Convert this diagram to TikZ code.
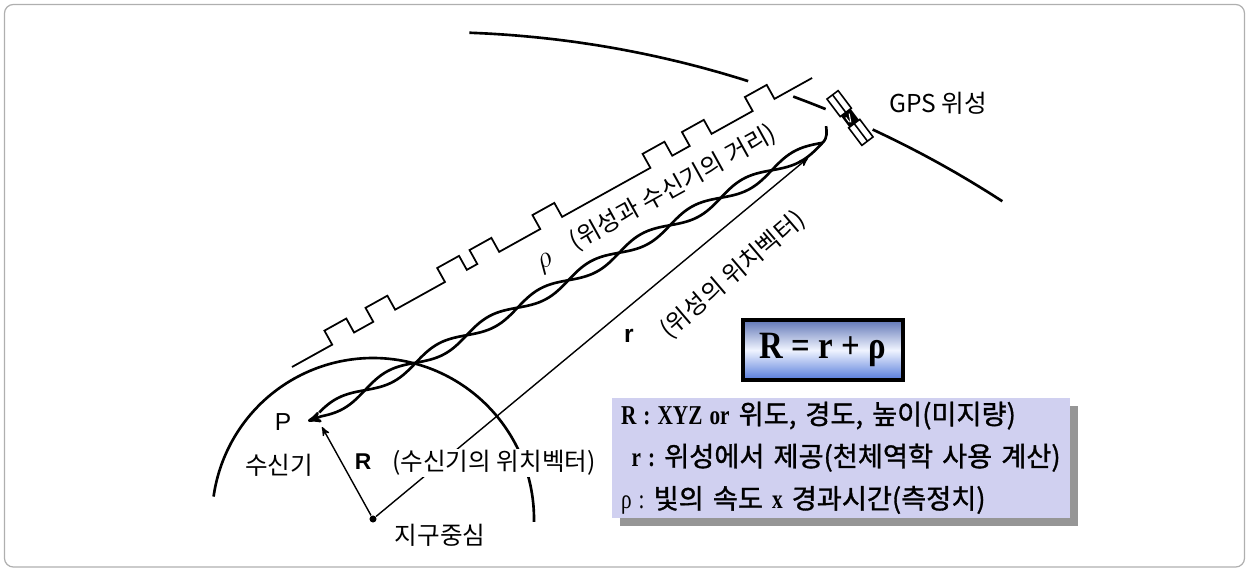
\documentclass[tikz,border=0pt]{standalone}
\usepackage{fontspec}
\setmainfont{Liberation Serif}
\setsansfont{Liberation Sans}
\newfontfamily\kr{Noto Sans CJK KR}
\newfontfamily\krb[FakeBold=1.2]{Noto Sans CJK KR}
\usepackage{graphicx}
\usetikzlibrary{arrows}

\definecolor{lavender}{RGB}{208,208,240}
\definecolor{shadowgray}{RGB}{150,150,150}
\definecolor{boxtop}{RGB}{96,118,182}
\definecolor{boxmid}{RGB}{240,244,255}
\definecolor{boxbot}{RGB}{84,122,218}
\definecolor{framegray}{RGB}{175,175,175}

% narrow latin letters in the legend
\newcommand{\lsq}[1]{\scalebox{0.78}[1]{#1}}

\begin{document}
\begin{tikzpicture}[x=0.02cm,y=-0.02cm,>=stealth',semithick]
\tikzstyle{every node}=[inner sep=1pt]
\tikzstyle{orbit}=[line width=1.5pt]
\tikzstyle{pulse}=[line width=1pt,line join=miter]
\tikzstyle{wave}=[line width=1.5pt]
\tikzstyle{vec}=[line width=0.8pt]
\tikzstyle{kor}=[font=\kr\fontsize{14}{16}\selectfont]
\tikzstyle{dot}=[circle,fill=black,inner sep=0pt,minimum size=4pt]

\useasboundingbox (0,0) rectangle (1247,570);
\draw[framegray,line width=0.7pt,rounded corners=5pt] (4.5,4.5) rectangle (1244.5,567);

% orbit, broken where the code line and satellite sit
\draw[orbit] plot[domain=-87.9:-72.4,samples=30,smooth] ({431+1049*cos(\x)},{1081+1049*sin(\x)});
\draw[orbit] plot[domain=-69.8:-67.9,samples=5,smooth] ({431+1049*cos(\x)},{1081+1049*sin(\x)});
\draw[orbit] plot[domain=-65.1:-57,samples=20,smooth] ({431+1049*cos(\x)},{1081+1049*sin(\x)});

% earth surface
\draw[orbit] plot[domain=-172:1,samples=60,smooth] ({373+161*cos(\x)},{519+161*sin(\x)});

% code signal
\begin{scope}[shift={(292,367)},rotate=29.06]
\draw[pulse] (0,0) \foreach \t in {46,93,175,212,284,410,455,527} { -- (\t,0) -- (\t,-16) -- (\t+25,-16) -- (\t+25,0) } -- (595,0);
\end{scope}

% carrier wave down to the receiver
\begin{scope}[shift={(308,421)},rotate=28.4]
\draw[wave,<-] (0,0) -- plot[domain=14:585,samples=150,smooth] (\x,{6*sin((\x-7)/57.8*180)});
\draw[wave] plot[domain=14:585,samples=150,smooth] (\x,{-6*sin((\x-7)/57.8*180)}) .. controls (592,-2) and (594,-8) .. (596,-13);
\end{scope}

% satellite
\begin{scope}[shift={(850,118)},rotate=-53]
\draw[fill=white,line width=0.9pt] (-29,-7) rectangle (-7,7) (7,-7) rectangle (29,7);
\draw[line width=0.9pt] (-29,0) -- (-7,0) (7,0) -- (29,0);
\fill (-7,-6) rectangle (7,6);
\draw[white,line width=0.6pt] (-4,-2) -- (4,2) (-3,3) -- (3,3);
\end{scope}

\node[dot] (CTR) at (373,519) {};
\coordinate (RCV) at (322,427);
\coordinate (SV) at (808,158);
\draw[vec,->] (CTR) -- (RCV);
\draw[vec,->] (CTR) -- (SV);

\node[kor,fill=white] (RLBL) at (494,463) {(수신기의 위치벡터)};
\node[font=\sffamily\fontsize{14}{16}\selectfont] (P) at (283,422) {P};
\node[kor] (RX) at (279,465) {수신기};
\node[font=\sffamily\bfseries\fontsize{13}{15}\selectfont] (BIGR) at (363,462) {R};
\node[kor] (GC) at (440,535) {지구중심};
\node[kor] (GPS) at (938,103) {GPS 위성};
\node[kor,rotate=29] (RHO) at (656,198) {{\fontsize{19}{19}\selectfont$\rho$}\quad(위성과 수신기의 거리)};
\node[font=\sffamily\bfseries\fontsize{14}{16}\selectfont] (SMALLR) at (629,336) {r};
\node[kor,rotate=40.5] (RVEC) at (733,275) {(위성의 위치벡터)};

% formula
\node[draw=black,line width=2pt,top color=boxtop,bottom color=boxbot,middle color=boxmid,
      minimum width=3.2cm,minimum height=1.2cm,font=\bfseries\fontsize{22}{24}\selectfont] (FORM) at (823,350) {\scalebox{0.85}[1]{R = r + ρ}};

% legend with its shadow
\fill[shadowgray] (620,406) rectangle (1078,526);
\node[fill=lavender,minimum width=9.16cm,minimum height=2.4cm,text width=8.8cm,align=left,inner sep=0pt,
      font=\fontsize{15.5}{24}\selectfont] (LEG) at (841,458) {%
{\bfseries\lsq{R : XYZ or}} {\krb 위도, 경도, 높이(미지량)}\\
\hspace{6pt}{\bfseries\lsq{r :}} {\krb 위성에서 제공(천체역학 사용 계산)}\\
{\lsq{ρ :}} {\krb 빛의 속도} {\bfseries\lsq{x}} {\krb 경과시간(측정치)}};
\end{tikzpicture}
\end{document}
